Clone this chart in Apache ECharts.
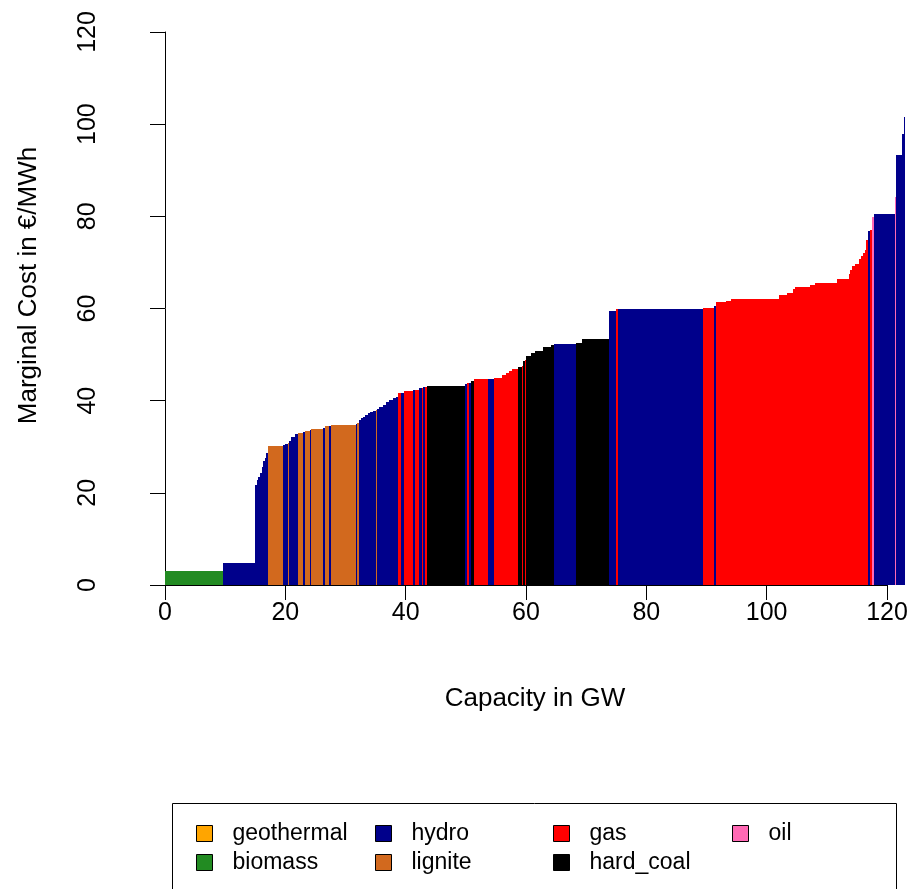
<!DOCTYPE html>
<html><head><meta charset="utf-8">
<script src="https://cdn.jsdelivr.net/npm/echarts@6/dist/echarts.min.js"></script>
<style>html,body{margin:0;padding:0;background:#fff}#c{width:911px;height:889px}</style>
</head><body><div id="c"></div>
<script>
// fuel types and colours (legend order, column-wise as in R)
const fuels = ['geothermal','biomass','hydro','lignite','gas','hard_coal','oil'];
const fuelColors = ['#FFA500','#228B22','#00008B','#D2691E','#FF0000','#000000','#FF69B4'];
const legendCols = [['geothermal','biomass'],['hydro','lignite'],['gas','hard_coal'],['oil']];

// units in merit order: capacity in GW, marginal cost in EUR/MWh, fuel
const capacity = [
 9.65,5.33,0.27,0.22,0.30,0.27,0.27,0.27,0.27,0.23,
 2.55,0.28,0.55,0.10,0.45,0.55,0.55,0.83,0.28,0.83,
 0.20,2.05,0.22,0.66,0.33,4.20,0.20,0.30,0.40,0.27,
 0.28,0.55,0.28,0.55,0.56,0.20,0.33,0.55,0.56,0.55,
 0.55,0.56,0.27,0.55,0.55,0.72,0.66,0.40,0.72,0.38,
 0.28,0.33,0.28,6.37,0.22,0.45,0.28,0.55,2.20,1.10,
 1.38,0.66,0.45,0.55,1.00,0.66,0.15,0.33,0.17,0.78,
 0.72,1.33,1.28,0.55,3.60,1.00,4.43,1.25,0.22,14.23,
 1.85,0.30,1.65,0.80,8.00,1.30,1.10,0.33,2.45,0.83,
 3.60,1.95,0.28,0.27,0.45,0.72,0.40,0.27,0.28,0.28,
 0.27,0.28,0.38,0.33,3.44,0.28,0.93,0.28,0.28
];
const cost = [
 3.1,4.8,21.7,22.8,23.5,24.3,25.7,26.8,27.5,28.6,
 30.2,30.4,30.7,30.9,31.3,32.2,32.8,32.9,33.3,33.5,
 33.6,33.8,34.0,34.4,34.6,34.8,35.0,35.2,35.8,36.2,
 36.5,36.9,37.4,37.6,37.8,38.0,38.3,38.7,39.0,39.8,
 40.1,40.5,40.9,41.6,41.6,42.0,42.2,42.3,42.4,42.7,
 42.8,42.9,43.0,43.2,43.6,43.8,43.9,44.3,44.6,44.8,
 44.9,45.6,46.1,46.5,46.8,47.2,47.5,48.6,48.8,49.7,
 50.3,50.8,51.7,52.1,52.3,52.5,53.4,59.5,59.8,59.8,
 60.1,60.5,61.4,61.6,62.1,63.0,63.4,64.2,64.6,65.1,
 65.5,66.4,67.5,68.4,69.2,69.7,70.7,71.4,72.0,72.8,
 74.9,76.8,77.0,79.8,80.4,84.3,93.3,97.8,101.5
];
const fuel = [
 'biomass','hydro','hydro','hydro','hydro','hydro','hydro','hydro','hydro','hydro',
 'lignite','hydro','hydro','lignite','hydro','hydro','hydro','lignite','hydro','lignite',
 'hydro','lignite','hydro','lignite','hydro','lignite','hydro','lignite','hydro','hydro',
 'hydro','hydro','hydro','hydro','hydro','lignite','hydro','hydro','hydro','hydro',
 'hydro','hydro','hydro','gas','hydro','gas','gas','hydro','gas','hydro',
 'gas','hydro','gas','hard_coal','hydro','gas','hydro','hard_coal','gas','hydro',
 'gas','gas','gas','gas','gas','hard_coal','gas','hard_coal','gas','hard_coal',
 'hard_coal','hard_coal','hard_coal','hard_coal','hydro','hard_coal','hard_coal','hydro','gas','hydro',
 'gas','hydro','gas','gas','gas','gas','gas','gas','gas','gas',
 'gas','gas','gas','gas','gas','gas','gas','gas','gas','gas',
 'gas','hydro','gas','oil','hydro','oil','hydro','hydro','hydro'
];

const xTicks = {min:0, max:120, interval:20};
const yTicks = {min:0, max:120, interval:20};
const xTitle = 'Capacity in GW';
const yTitle = 'Marginal Cost in €/MWh';

// build [start, end, cost] per fuel
const byFuel = {};
fuels.forEach(f => byFuel[f] = []);
let acc = 0;
for (let i = 0; i < capacity.length; i++) {
  byFuel[fuel[i]].push([acc, acc + capacity[i], cost[i]]);
  acc += capacity[i];
}

function renderItem(params, api) {
  const p0 = api.coord([api.value(0), api.value(2)]);
  const p1 = api.coord([api.value(1), 0]);
  const x0 = Math.round(p0[0]);
  const x1 = Math.max(Math.round(p1[0]), x0 + 1);
  const y0 = Math.round(p0[1]);
  const y1 = Math.round(p1[1]);
  return {
    type: 'rect',
    shape: {x: x0, y: y0, width: x1 - x0, height: y1 - y0},
    style: {fill: api.visual('color')}
  };
}

const FONT = 'Liberation Sans';
const chart = echarts.init(document.getElementById('c'), null, {renderer: 'canvas'});
const legendX = [196, 375, 553, 732];
chart.setOption({
  animation: false,
  backgroundColor: '#fff',
  textStyle: {fontFamily: FONT},
  grid: {left: 165, right: 24, top: 32, bottom: 304, containLabel: false},
  xAxis: {
    type: 'value', min: xTicks.min, max: xTicks.max, interval: xTicks.interval,
    offset: 2,
    splitLine: {show: false},
    axisLine: {lineStyle: {color: '#000', width: 1}},
    axisTick: {length: 15, lineStyle: {color: '#000'}},
    axisLabel: {fontSize: 25, color: '#000', margin: 14, fontFamily: FONT},
    name: xTitle, nameLocation: 'middle', nameGap: 99,
    nameTextStyle: {fontSize: 26, color: '#000', fontFamily: FONT, padding: [0, 0, 0, 18]}
  },
  yAxis: {
    type: 'value', min: yTicks.min, max: yTicks.max, interval: yTicks.interval,
    offset: 30,
    splitLine: {show: false},
    axisLine: {show: true, lineStyle: {color: '#000', width: 1}},
    axisTick: {show: true, length: 15, lineStyle: {color: '#000'}},
    axisLabel: {fontSize: 25, color: '#000', rotate: 90, margin: 34, fontFamily: FONT},
    name: yTitle, nameLocation: 'middle', nameGap: 93, nameRotate: 90,
    nameTextStyle: {fontSize: 26, color: '#000', fontFamily: FONT, padding: [0, 0, 0, 46]}
  },
  legend: legendCols.map((col, k) => ({
    data: col, orient: 'vertical', left: legendX[k], top: 822, padding: 0,
    itemWidth: 16, itemHeight: 16, itemGap: 6, icon: 'rect', selectedMode: false,
    itemStyle: {borderColor: '#000', borderWidth: 1},
    textStyle: {fontSize: 23, color: '#000', fontFamily: FONT, lineHeight: 16, padding: [0, 0, 0, 15]}
  })),
  graphic: [{
    type: 'rect', shape: {x: 172.5, y: 803.5, width: 724, height: 120},
    style: {fill: 'none', stroke: '#000', lineWidth: 1}, silent: true
  }],
  series: fuels.map((f, k) => ({
    type: 'custom', name: f, renderItem: renderItem, clip: false,
    itemStyle: {color: fuelColors[k]},
    encode: {x: [0, 1], y: 2},
    data: byFuel[f]
  }))
});
</script></body></html>
